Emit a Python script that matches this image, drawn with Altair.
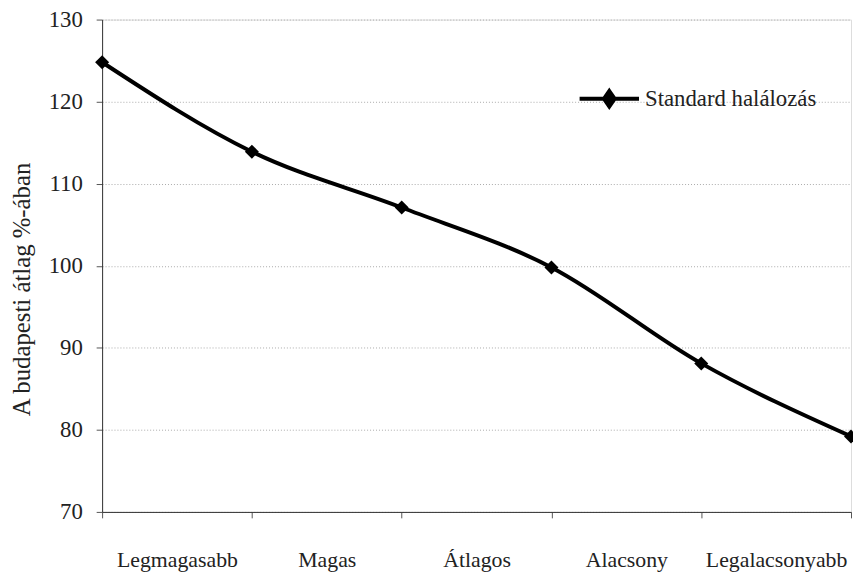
import altair as alt
import pandas as pd

positions = [0, 1, 2, 3, 4, 5]
values = [124.8, 113.9, 107.1, 99.8, 88.1, 79.2]
series_name = "Standard halálozás"
categories = ["Legmagasabb", "Magas", "Átlagos", "Alacsony", "Legalacsonyabb"]
label_positions = [0.5, 1.5, 2.5, 3.5, 4.5]
y_ticks = [70, 80, 90, 100, 110, 120, 130]

df = pd.DataFrame({"pos": positions, "value": values, "series": [series_name] * len(values)})
lab = pd.DataFrame({"pos": label_positions, "cat": categories})

FONT = "Liberation Serif"
xscale = alt.Scale(domain=[0, 5], nice=False, zero=False)
yscale = alt.Scale(domain=[70, 130], nice=False, zero=False)

color = alt.Color(
    "series:N",
    scale=alt.Scale(range=["black"]),
    legend=alt.Legend(
        title=None,
        orient="none",
        legendX=480,
        legendY=48,
        symbolType="M-1,0H1M0,-0.26L0.18,0L0,0.26L-0.18,0Z",
        symbolSize=3600,
        symbolStrokeWidth=4,
        symbolStrokeColor="black",
        symbolFillColor="black",
        labelFont=FONT,
        labelFontSize=23,
        labelColor="#222",
        labelOffset=4,
        labelLimit=400,
    ),
)

x_enc = alt.X(
    "pos:Q",
    scale=xscale,
    axis=alt.Axis(
        orient="bottom",
        values=positions,
        labels=False,
        title=None,
        grid=False,
        domainColor="#333",
        tickColor="#555",
        tickSize=6,
    ),
)

y_enc = alt.Y(
    "value:Q",
    scale=yscale,
    axis=alt.Axis(
        values=y_ticks,
        title="A budapesti átlag %-ában",
        titleFont=FONT,
        titleFontSize=25,
        titleFontWeight="normal",
        titleColor="#222",
        titlePadding=14,
        titleY=272,
        labelFont=FONT,
        labelFontSize=23,
        labelColor="#222",
        labelPadding=14,
        tickSize=6,
        tickColor="#555",
        domainColor="#333",
        grid=True,
        gridColor="#aaa",
        gridDash=[1, 2],
    ),
)

line = alt.Chart(df).mark_line(
    strokeWidth=4, interpolate="monotone", clip=False
).encode(x=x_enc, y=y_enc, color=color)

pts = alt.Chart(df).mark_point(
    shape="diamond", filled=True, size=200, opacity=1, clip=False
).encode(
    x=alt.X("pos:Q", scale=xscale, axis=None),
    y=alt.Y("value:Q", scale=yscale),
    color=alt.Color("series:N", legend=None),
)

label_expr = "[" + ",".join("'" + c + "'" for c in categories) + "][floor(datum.value)]"
labels = alt.Chart(lab).mark_point(opacity=0).encode(
    x=alt.X(
        "pos:Q",
        scale=xscale,
        axis=alt.Axis(
            orient="bottom",
            values=label_positions,
            labelExpr=label_expr,
            title=None,
            ticks=False,
            domain=False,
            grid=False,
            labelFont=FONT,
            labelFontSize=22,
            labelColor="#222",
            labelPadding=38,
        ),
    )
)

chart = (
    alt.layer(line, pts, labels)
    .resolve_axis(x="independent")
    .properties(
        width=756,
        height=497,
        autosize=alt.AutoSizeParams(type="none"),
        padding={"left": 95, "top": 9, "right": 2, "bottom": 62},
    )
    .configure_view(stroke="#888", strokeWidth=1)
    .configure(background="white")
)

chart.save("out.html", embed_options={"renderer": "svg", "actions": False})
